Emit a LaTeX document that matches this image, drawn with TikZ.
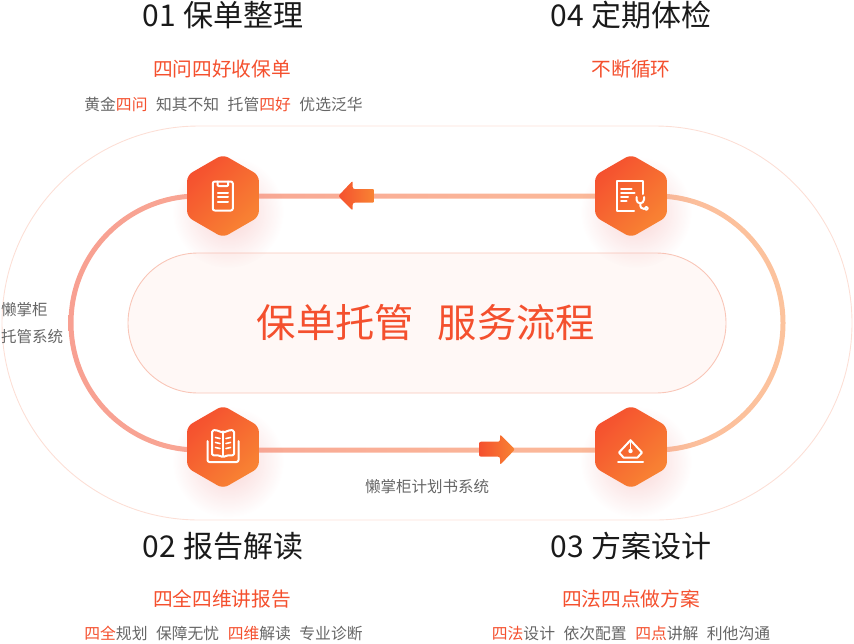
\documentclass[tikz,border=0pt]{standalone}
\usepackage{fontspec}
\setmainfont{Noto Sans CJK SC}
\usetikzlibrary{fadings,shapes.geometric}
\definecolor{hexA}{HTML}{F5502F}
\definecolor{hexB}{HTML}{F88433}
\definecolor{redtxt}{HTML}{F4502E}
\definecolor{graytxt}{HTML}{666666}
\definecolor{titletxt}{HTML}{1A1A1A}
\definecolor{trackL}{HTML}{F8A092}
\definecolor{trackR}{HTML}{FCC39D}
\definecolor{outerc}{HTML}{FCDFD6}
\definecolor{innerfill}{HTML}{FFF8F6}
\definecolor{innerline}{HTML}{F9C6B8}
\definecolor{shadowc}{HTML}{EE9090}
\tikzfading[name=glow, inner color=transparent!60, outer color=transparent!100]
\tikzset{
  hexnode/.style={regular polygon, regular polygon sides=6, regular polygon rotate=30,
    minimum size=83pt, inner sep=0pt, rounded corners=6pt,
    top color=hexA, bottom color=hexB, shading angle=45},
  glowshadow/.style={fill=shadowc, path fading=glow},
  icon/.style={draw=white, line width=2pt, line cap=round, line join=round},
  titletext/.style={font=\fontsize{30}{30}\selectfont, text=titletxt, anchor=base, inner sep=0pt},
  subtext/.style={font=\fontsize{19.7}{19.7}\selectfont, text=redtxt, anchor=base, inner sep=0pt},
  dettext/.style={font=\fontsize{15.8}{15.8}\selectfont, text=graytxt, anchor=base, inner sep=0pt},
  sidetext/.style={font=\fontsize{15.5}{15.5}\selectfont, text=graytxt, inner sep=0pt},
  arrowshape/.style={left color=hexA, right color=hexB, rounded corners=2pt},
}
\newcommand{\rd}[1]{\textcolor{redtxt}{#1}}
\newcommand{\gp}{\hspace{8.5pt}}
\begin{document}
\begin{tikzpicture}[x=1pt,y=-1pt]
\useasboundingbox (0,0) rectangle (854,643);
% outer thin stadium
\draw[outerc, line width=0.9pt, rounded corners=197pt] (2,126) rectangle (852,520);
% track ring
\shade[left color=trackL, right color=trackR, even odd rule]
  [rounded corners=129.5pt] (68.5,193.5) rectangle (785.5,452.5)
  [rounded corners=124.5pt] (73.5,198.5) rectangle (780.5,447.5);
% inner box
\draw[innerline, fill=innerfill, line width=0.9pt, rounded corners=70pt] (128,253) rectangle (726,393);
% shadows
\fill[glowshadow] (228,212) circle (56);
\fill[glowshadow] (636,212) circle (56);
\fill[glowshadow] (228,462) circle (56);
\fill[glowshadow] (636,462) circle (56);
% hexagons
\node[hexnode] (h1) at (223,196) {};
\node[hexnode] (h4) at (631,196) {};
\node[hexnode] (h2) at (223,447) {};
\node[hexnode] (h3) at (631,447) {};
% arrows
\shade[arrowshape] (338.3,196) -- (352.7,180.7) -- (352.7,189) -- (374.3,189) -- (374.3,202.7) -- (352.7,202.7) -- (352.7,210.7) -- cycle;
\shade[arrowshape] (515,449.3) -- (500,434.3) -- (500,441.7) -- (479,441.7) -- (479,456.7) -- (500,456.7) -- (500,465) -- cycle;
% icon 1: clipboard
\draw[icon, rounded corners=2pt] (212.8,181.5) rectangle (232.8,210.5);
\draw[icon, rounded corners=1pt] (217.5,181.5) -- (217.5,186) -- (228.2,186) -- (228.2,181.5);
\draw[icon] (217.8,192.5) -- (228,192.5);
\draw[icon] (217.8,197) -- (228,197);
\draw[icon] (217.8,201.5) -- (228,201.5);
% icon 4: medical doc
\draw[icon] (634,210.8) -- (617.2,210.8) -- (617.2,181.2) -- (643,181.2) -- (643,194);
\draw[icon] (621,189.3) -- (631.5,189.3);
\draw[icon] (621,193.3) -- (634.5,193.3);
\draw[icon] (621,197.3) -- (628,197.3);
\draw[icon] (621,201.3) -- (626.5,201.3);
\draw[icon] (636.5,197) -- (636.5,199.5) .. controls (636.5,204.5) and (644,204.5) .. (644,199.5) -- (644,197);
\draw[icon] (640.2,203.2) .. controls (640.2,207.8) and (641.5,209) .. (644.3,209);
\draw[icon, line width=1.7pt] (646.4,208.4) circle (1.7);
% icon 2: book
\draw[icon, rounded corners=2pt] (207.5,441) -- (207.5,462) -- (238.5,462) -- (238.5,441);
\draw[icon, rounded corners=1.5pt] (223,433) .. controls (219,430.5) and (215,430) .. (212,430.5) -- (212,455.5) .. controls (216,455) and (220,455.5) .. (223,457.5) .. controls (226,455.5) and (230,455) .. (234,455.5) -- (234,430.5) .. controls (231,430) and (227,430.5) .. (223,433) -- cycle;
\draw[icon] (223,433) -- (223,456);
\draw[icon, line width=1.6pt] (215.5,437.5) -- (220,438.5) (226,438.5) -- (230.5,437.5);
\draw[icon, line width=1.6pt] (215.5,442.5) -- (220,443.5) (226,443.5) -- (230.5,442.5);
\draw[icon, line width=1.6pt] (215.5,447.5) -- (220,448.5) (226,448.5) -- (230.5,447.5);
% icon 3: pen nib
\draw[icon] (630.5,440.2) -- (642,452.5) -- (637.5,457.5) -- (623.5,457.5) -- (619,452.5) -- cycle;
\draw[icon] (618,462) -- (643,462);
\draw[icon, line width=1.6pt] (630.5,442) -- (630.5,449);
\fill[white] (630.5,451) circle (2.2);
% titles
\node[titletext] (t1) at (223,26.5) {01 保单整理};
\node[titletext] (t4) at (631,26.5) {04 定期体检};
\node[titletext] (t2) at (223,557.5) {02 报告解读};
\node[titletext] (t3) at (631,557.5) {03 方案设计};
\node[subtext] (s1) at (222,76.5) {四问四好收保单};
\node[subtext] (s4) at (631,76.5) {不断循环};
\node[subtext] (s2) at (222,606.5) {四全四维讲报告};
\node[subtext] (s3) at (631,606.5) {四法四点做方案};
\node[dettext] (d1) at (223.5,110.5) {黄金\rd{四问}\gp 知其不知\gp 托管\rd{四好}\gp 优选泛华};
\node[dettext] (d2) at (223.5,639) {\rd{四全}规划\gp 保障无忧\gp \rd{四维}解读\gp 专业诊断};
\node[dettext] (d3) at (631,639) {\rd{四法}设计\gp 依次配置\gp \rd{四点}讲解\gp 利他沟通};
% side labels
\node[sidetext, anchor=base west] (l1) at (1,315.5) {懒掌柜};
\node[sidetext, anchor=base west] (l2) at (1,342.5) {托管系统};
\node[sidetext, anchor=base] (l3) at (427,492) {懒掌柜计划书系统};
% center title
\node[font=\fontsize{39.3}{39.3}\selectfont, text=redtxt, anchor=base, inner sep=0pt] (ct) at (426,337.5) {保单托管\hspace{24pt}服务流程};
\end{tikzpicture}
\end{document}
